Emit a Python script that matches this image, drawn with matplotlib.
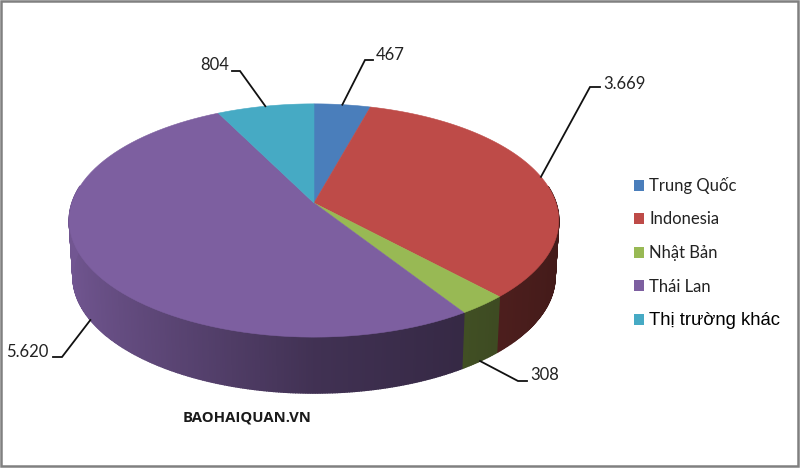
import numpy as np
import matplotlib
matplotlib.use("Agg")
import matplotlib.pyplot as plt
from matplotlib.patches import Patch, Rectangle
from matplotlib.colors import to_rgb

categories = ["Trung Quốc", "Indonesia", "Nhật Bản", "Thái Lan", "Thị trường khác"]
values = [467, 3669, 308, 5620, 804]
value_labels = ["467", "3.669", "308", "5.620", "804"]
colors = ["#4A7EBB", "#BE4B48", "#98B954", "#7D5FA0", "#46AAC4"]

# pie shape in pixels, with a bit of perspective
cx, cy = 314, 203
rx, ry = 242, 114
persp = 0.15
depth = 56
shrink = 0.985

# elbow of each leader line and where its label sits
elbows = [(365, 60), (590, 87), (518, 381), (62, 357), (240, 71)]
ends = [(373, 60), (600, 87), (527, 381), (53, 357), (232, 71)]
label_pos = [(376, 55), (603, 84), (530, 375), (48, 352), (229, 65)]
label_ha = ["left", "left", "left", "right", "right"]


def project(theta, bottom=False):
    # theta is clockwise from the top, in degrees
    u = np.sin(np.radians(theta))
    v = np.cos(np.radians(theta))
    w = 1 + persp * v
    x = rx * u / w
    y = ry * v / w
    if bottom:
        return cx + x * shrink, cy - y + depth
    return cx + x, cy - y


def wall_shade(theta):
    # lighter on the left side, dark towards the right
    u = np.sin(np.radians(theta))
    return 0.52 - 0.17 * u - 0.22 * min(0, u)


fig = plt.figure(figsize=(8, 4.68), dpi=100)
ax = fig.add_axes([0, 0, 1, 1])
ax.set_xlim(0, 800)
ax.set_ylim(468, 0)
ax.axis("off")

edges = np.concatenate([[0], np.cumsum(values)]) / sum(values) * 360

# side walls, as thin strips so the shading can change
for i, col in enumerate(colors):
    a0, a1 = edges[i], edges[i + 1]
    n = max(2, int((a1 - a0) / 0.5))
    steps = np.linspace(a0, a1, n + 1)
    for t0, t1 in zip(steps[:-1], steps[1:]):
        mid = (t0 + t1) / 2
        if np.cos(np.radians(mid)) > 0.15:
            continue
        x0, y0 = project(t0)
        x1, y1 = project(t1)
        x2, y2 = project(t1, bottom=True)
        x3, y3 = project(t0, bottom=True)
        c = tuple(np.array(to_rgb(col)) * wall_shade(mid))
        ax.fill([x0, x1, x2, x3], [y0, y1, y2, y3], color=c, lw=1.0)

# top face
for i, col in enumerate(colors):
    t = np.linspace(edges[i], edges[i + 1], 80)
    x, y = project(t)
    ax.fill(np.r_[cx, x], np.r_[cy, y], color=col, lw=0.4)

# leader lines and value labels
for i, lab in enumerate(value_labels):
    mid = (edges[i] + edges[i + 1]) / 2
    on_wall = np.cos(np.radians(mid)) < 0
    sx, sy = project(mid, bottom=on_wall)
    ax.plot([sx, elbows[i][0], ends[i][0]], [sy, elbows[i][1], ends[i][1]],
            color="#111111", lw=1.3, solid_joinstyle="miter")
    ax.text(label_pos[i][0], label_pos[i][1], lab, ha=label_ha[i], va="center",
            fontsize=12, color="#222222", family=["Lato", "Noto Sans"])

ax.text(183, 417, "BAOHAIQUAN.VN", fontsize=10.7, fontweight="bold", va="center",
        color="#1a1a1a", family="Open Sans")

handles = [Patch(facecolor=c, edgecolor="none") for c in colors]
leg = ax.legend(handles, categories, loc="center left", bbox_to_anchor=(634, 253),
                bbox_transform=ax.transData, frameon=False, fontsize=12,
                handlelength=0.62, handleheight=0.62, handletextpad=0.3,
                labelspacing=1.05, borderpad=0, borderaxespad=0, labelcolor="#222222")
for t in leg.get_texts()[:-1]:
    t.set_family(["Lato", "Noto Sans"])
leg.get_texts()[-1].set_family("Liberation Sans")
leg.get_texts()[-1].set_fontsize(13.3)
leg.get_texts()[-1].set_color("black")

# grey frame round the picture
ax.add_patch(Rectangle((1, 1), 797, 465, fill=False, edgecolor="#808080", lw=1.8))

fig.savefig("out.png", dpi=100)
